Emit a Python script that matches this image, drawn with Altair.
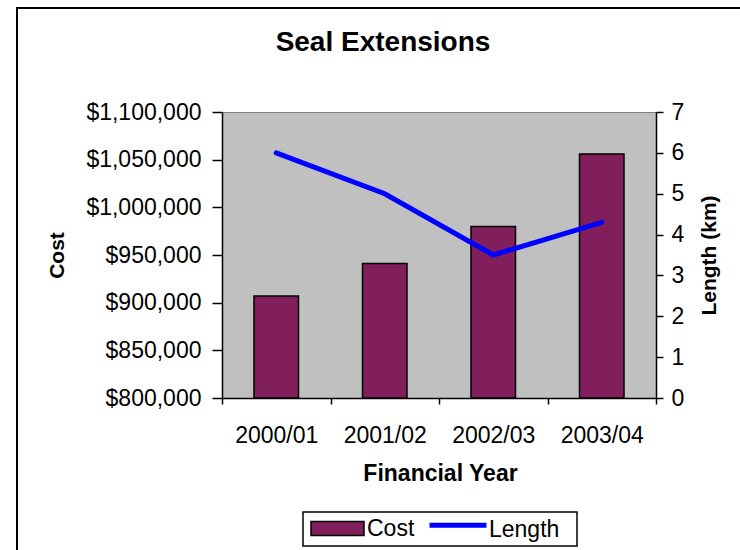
import altair as alt
import pandas as pd

YEARS = ["2000/01", "2001/02", "2002/03", "2003/04"]
COST = [907000, 941000, 980000, 1056000]
LENGTH_KM = [6.0, 5.0, 3.5, 4.3]
COST_TICKS = [800000, 850000, 900000, 950000, 1000000, 1050000, 1100000]
LENGTH_TICKS = [0, 1, 2, 3, 4, 5, 6, 7]
COST_MIN = 800000

PURPLE = "#801F5C"
BLUE = "#0000FF"
FONT = "Liberation Sans"

df = pd.DataFrame({
    "year": YEARS,
    "cost": COST,
    "length": LENGTH_KM,
    "s_cost": ["Cost"] * len(YEARS),
    "s_len": ["Length"] * len(YEARS),
})

base = alt.Chart(df)

x_axis = alt.Axis(
    title="Financial Year", labelAngle=0, tickBand="extent", tickSize=6,
    labelFontSize=23, labelPadding=31, labelBaseline="middle",
    titleFontSize=23, titleFontWeight="bold", titleX=218, titleY=75,
    titleAlign="center", titleBaseline="middle",
)
x_enc = alt.X("year:N", sort=YEARS, axis=x_axis,
              scale=alt.Scale(paddingInner=0, paddingOuter=0))

bars = base.mark_bar(
    stroke="black", strokeWidth=1.5, width=alt.RelativeBandSize(0.41)
).encode(
    x=x_enc,
    y=alt.Y("cost:Q",
            scale=alt.Scale(domain=[COST_TICKS[0], COST_TICKS[-1]], zero=False, nice=False),
            axis=alt.Axis(values=COST_TICKS, format="$,.0f", title="Cost", grid=False,
                          orient="left", tickSize=10, labelPadding=11, labelFontSize=23,
                          titleFontSize=21, titleFontWeight="bold", titleX=-165, titleY=143,
                          titleAngle=270, titleAlign="center", titleBaseline="middle")),
    y2=alt.datum(COST_MIN),
    fill=alt.Fill("s_cost:N", scale=alt.Scale(domain=["Cost"], range=[PURPLE]),
                  legend=alt.Legend(orient="none", legendX=88, legendY=389, title=None,
                                    symbolType="M-1,-0.264H1V0.264H-1Z", symbolSize=2809,
                                    symbolStrokeColor="black", symbolStrokeWidth=1.5,
                                    labelFontSize=23, labelOffset=2, padding=0)),
)

line = base.mark_line(strokeWidth=5, strokeCap="round").encode(
    x=x_enc,
    y=alt.Y("length:Q", scale=alt.Scale(domain=[0, 7], nice=False),
            axis=alt.Axis(values=LENGTH_TICKS, title="Length (km)", grid=False,
                          orient="right", tickSize=7, labelPadding=8, labelFontSize=23,
                          titleFontSize=21, titleFontWeight="bold", titleX=53, titleY=143,
                          titleAngle=270, titleAlign="center", titleBaseline="middle")),
    stroke=alt.Stroke("s_len:N", scale=alt.Scale(domain=["Length"], range=[BLUE]),
                      legend=alt.Legend(orient="none", legendX=205, legendY=387, title=None,
                                        symbolType="M-1,-0.17H1", symbolSize=3249,
                                        symbolStrokeWidth=5, labelFontSize=23,
                                        labelOffset=0, padding=0)),
)

one = alt.Data(values=[{"k": 1}])

frame = alt.Chart(one).mark_rect(fill=None, stroke="black", strokeWidth=2).encode(
    x=alt.value(-205), x2=alt.value(560), y=alt.value(-104), y2=alt.value(620)
)
legend_box = alt.Chart(one).mark_rect(fill=None, stroke="black", strokeWidth=1.5).encode(
    x=alt.value(81), x2=alt.value(355), y=alt.value(400), y2=alt.value(434)
)

chart = alt.layer(bars, line, frame, legend_box).resolve_scale(
    y="independent"
).properties(
    width=434, height=286,
    title=alt.Title("Seal Extensions", fontSize=28, fontWeight="bold", dx=-56,
                    offset=0, dy=72, baseline="alphabetic", anchor="middle",
                    color="black"),
    autosize=alt.AutoSizeParams(type="none"),
    padding={"left": 222, "top": 112, "right": 84, "bottom": 152},
).configure(
    font=FONT,
).configure_view(
    fill="#C0C0C0", stroke="#808080", strokeWidth=1,
).configure_axis(
    domainColor="black", domainWidth=1.5, tickColor="black", tickWidth=1.5,
    labelColor="black", titleColor="black", labelFont=FONT, titleFont=FONT,
).configure_legend(
    labelColor="black", labelFont=FONT,
)

chart.save("out.html", embed_options={"renderer": "svg", "actions": False})
